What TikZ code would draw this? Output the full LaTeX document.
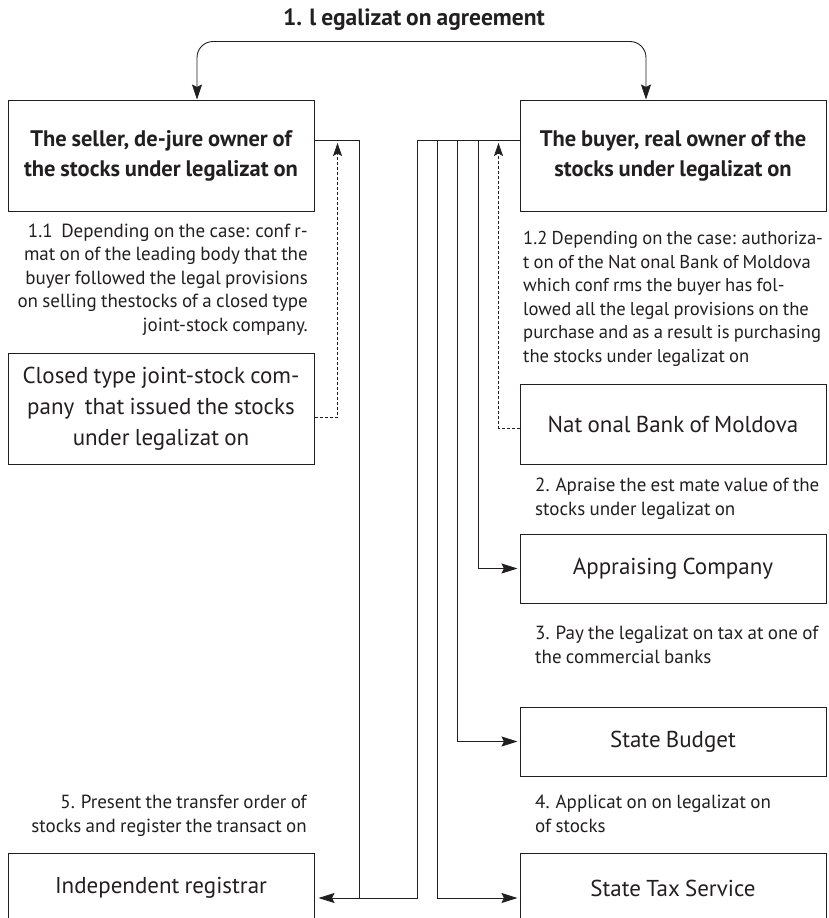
\documentclass[tikz,border=0pt]{standalone}
\usepackage{fontspec}
\setmainfont{PT Sans}[WordSpace=0.85]
\usetikzlibrary{arrows.meta}
\definecolor{ink}{RGB}{35,31,32}
\begin{document}
\begin{tikzpicture}[x=1pt,y=-1pt,
  every node/.style={text=ink},
  box/.style={draw=ink, line width=1pt, minimum width=306pt, inner sep=0pt,
    align=center, font=\fontsize{23}{31}\selectfont},
  headbox/.style={box, minimum height=111pt, font=\bfseries\fontsize{22.5}{30}\selectfont},
  note/.style={inner sep=0pt, font=\fontsize{19}{23.5}\selectfont},
  link/.style={draw=ink, line width=0.9pt},
  tip/.style={-{Stealth[length=16pt,width=10pt,inset=2.5pt]}},
  bothtips/.style={{Stealth[length=15pt,width=10pt,inset=2.5pt]}-{Stealth[length=15pt,width=10pt,inset=2.5pt]}},
  dashlink/.style={link, line width=0.8pt, dash pattern=on 3pt off 2pt,
    -{Stealth[length=13pt,width=9pt,inset=2.5pt]}}
]
\useasboundingbox (0,0) rectangle (828,918);
\clip (0,0) rectangle (828,918);

% heading
\node[font=\bfseries\fontsize{23.5}{28}\selectfont] (title) at (414,20) {1. l egalizat on agreement};

% left column
\node[headbox] (seller) at (161,155.5) {The seller, de-jure owner of\\the stocks under legalizat on};
\node[box, minimum height=111pt] (closed) at (161,408.5)
  {Closed type joint-stock com-\\pany\ \ that issued the stocks\\under legalizat on};
\node[box, minimum height=70pt] (reg) at (161,888) {Independent registrar};

% right column
\node[headbox] (buyer) at (673,155.5) {The buyer, real owner of the\\stocks under legalizat on};
\node[box, minimum height=80pt] (nbm) at (673,424) {Nat onal Bank of Moldova};
\node[box, minimum height=69pt] (appr) at (673,568.5) {Appraising Company};
\node[box, minimum height=69pt] (budget) at (673,741.5) {State Budget};
\node[box, minimum height=70pt] (tax) at (673,888) {State Tax Service};

% step notes (base anchor sits on the last line)
\node[note, anchor=base east, align=right] (n11) at (308,331)
  {1.1\ \ Depending on the case: conf r-\\mat on of the leading body that the\\buyer followed the legal provisions\\on selling thestocks of a closed type\\joint-stock company.};
\node[note, anchor=base west, align=left, font=\fontsize{18.6}{23.5}\selectfont] (n12) at (523,362)
  {1.2 Depending on the case: authoriza-\\t on of the Nat onal Bank of Moldova\\which conf rms the buyer has fol-\\lowed all the legal provisions on the\\purchase and as a result is purchasing\\the stocks under legalizat on};
\node[note, anchor=base west, align=left] (n2) at (535,515)
  {2. Apraise the est mate value of the\\stocks under legalizat on};
\node[note, anchor=base west, align=left] (n3) at (535,663)
  {3. Pay the legalizat on tax at one of\\the commercial banks};
\node[note, anchor=base west, align=left] (n4) at (535,832)
  {4. Applicat on on legalizat on\\of stocks};
\node[note, anchor=base east, align=right] (n5) at (307,832)
  {5. Present the transfer order of\\stocks and register the transact on};

% agreement between seller and buyer
\draw[link, bothtips, rounded corners=16pt]
  ([xshift=36pt]seller.north) -- ++(0,-58) -| ([xshift=-27pt]buyer.north);

% seller and buyer towards the registrar
\draw[link] ([yshift=15.5pt]seller.east) -| ([xshift=45pt,yshift=-10pt]reg.east);
\draw[link, tip, shorten >=4pt] ([yshift=15.5pt]buyer.west)
  -| ([xshift=103pt,yshift=-10pt]reg.east) -- ([yshift=-10pt]reg.east);

% buyer towards the institutions
\draw[link, tip, shorten >=2pt] ([xshift=-82pt,yshift=15.5pt]buyer.west) |- ([yshift=-10pt]tax.west);
\draw[link, tip, shorten >=2pt] ([xshift=-62pt,yshift=15.5pt]buyer.west) |- (budget.west);
\draw[link, tip, shorten >=2pt] ([xshift=-41pt,yshift=15.5pt]buyer.west) |- (appr.west);

% confirmations (dashed)
\draw[dashlink] ([yshift=-8.5pt]closed.east) -| ([xshift=23pt,yshift=12.5pt]seller.east);
\draw[dashlink] ([yshift=-4pt]nbm.west) -| ([xshift=-21pt,yshift=12.5pt]buyer.west);
\end{tikzpicture}
\end{document}
